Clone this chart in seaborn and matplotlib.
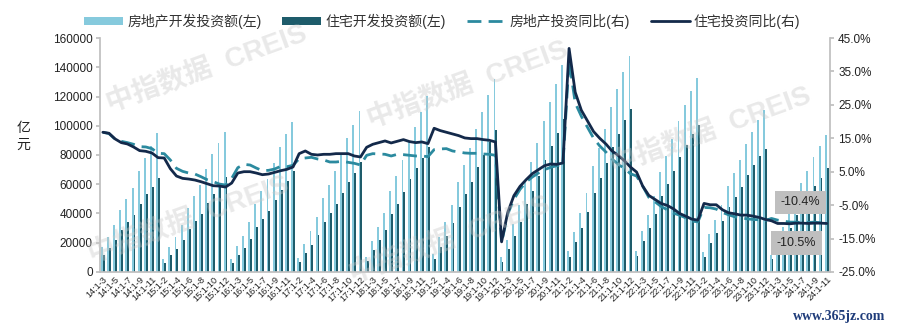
import numpy as np
import pandas as pd
import matplotlib
matplotlib.use("Agg")
import matplotlib.pyplot as plt
from matplotlib.patches import Patch
from matplotlib.lines import Line2D
import seaborn as sns

# ---- periods: cumulative month ranges, 2014:1-3 .. 2024:1-11 ----
year_months = {
    14: [3, 4, 5, 6, 7, 8, 9, 10, 11, 12],
    15: [2, 3, 4, 5, 6, 7, 8, 9, 10, 11, 12],
    16: [2, 3, 4, 5, 6, 7, 8, 9, 10, 11, 12],
    17: [2, 3, 4, 5, 6, 7, 8, 9, 10, 11, 12],
    18: [2, 3, 4, 5, 6, 7, 8, 9, 10, 11, 12],
    19: [2, 3, 4, 5, 6, 7, 8, 9, 10, 11, 12],
    20: [2, 3, 4, 5, 6, 7, 8, 9, 10, 11, 12],
    21: [2, 3, 4, 5, 6, 7, 8, 9, 10, 11, 12],
    22: [2, 3, 4, 5, 6, 7, 8, 9, 10, 11, 12],
    23: [2, 3, 4, 5, 6, 7, 8, 9, 10, 11, 12],
    24: [2, 3, 4, 5, 6, 7, 8, 9, 10, 11],
}
periods = [f"{y}:1-{m}" for y, ms in year_months.items() for m in ms]

# 房地产开发投资额 (亿元, 累计)
re_invest = [
    16795, 23670, 32064, 42019, 50011, 57461, 68751, 78246, 86013, 95036,
    8786, 16914, 23669, 32167, 43955, 51926, 59486, 70535, 80536, 88478, 95979,
    9117, 17677, 24798, 33848, 46631, 55358, 63785, 74598, 85138, 94462, 102581,
    9854, 19292, 27732, 37267, 50610, 59761, 68732, 80644, 91513, 100387, 109799,
    10260, 21291, 30592, 40632, 55531, 65430, 76519, 88948, 99325, 109312, 120264,
    12090, 23803, 34217, 46075, 61609, 72843, 84589, 98008, 109603, 121265, 132194,
    10115, 21963, 33103, 45920, 62780, 75325, 88454, 103484, 116556, 128492, 141443,
    13986, 27576, 40240, 54318, 72179, 84895, 98060, 112568, 124934, 137086, 147602,
    14499, 27765, 39154, 52134, 68314, 79462, 90809, 103559, 113945, 123863, 132895,
    13669, 25974, 35514, 45701, 58550, 67717, 76900, 87269, 95922, 104045, 110913,
    11842, 22082, 30928, 40632, 52529, 60877, 69284, 78680, 86309, 93368,
]

# 住宅开发投资额 (亿元, 累计)
res_invest = [
    11458, 16133, 21941, 28765, 34089, 39133, 46673, 53174, 58349, 64352,
    5955, 11434, 15917, 21574, 29274, 34601, 39538, 46947, 53517, 58722, 64595,
    6053, 11854, 16488, 22442, 30815, 36497, 41945, 49085, 55998, 62046, 68704,
    6694, 13134, 18577, 25034, 34141, 40245, 46306, 54211, 61547, 67641, 75148,
    7203, 14948, 21681, 28848, 39308, 46556, 54503, 63464, 70876, 78107, 85192,
    8529, 17094, 24866, 33152, 44618, 53010, 61798, 71681, 80210, 88843, 97071,
    7115, 15759, 24311, 33901, 46350, 55666, 65454, 76522, 86046, 94923, 104446,
    10316, 20624, 30102, 40769, 54244, 64214, 74218, 85246, 94668, 103859, 111173,
    10819, 21016, 29846, 39521, 51804, 60332, 69039, 78713, 86514, 94055, 100646,
    10329, 19767, 26961, 34653, 44439, 51400, 58380, 66279, 72869, 79046, 83820,
    8856, 16687, 22979, 30193, 39051, 45262, 51546, 58534, 64328, 70987,
]

# 房地产投资同比 (%)
re_yoy = [
    16.8, 16.4, 14.7, 14.1, 13.7, 13.2, 12.5, 12.4, 11.9, 10.5,
    10.4, 8.5, 6.0, 5.1, 4.6, 4.3, 3.5, 2.6, 2.0, 1.3, 1.0,
    3.0, 6.2, 7.2, 7.0, 6.1, 5.3, 5.4, 5.8, 6.6, 6.5, 6.9,
    8.9, 9.1, 9.3, 8.8, 8.5, 7.9, 7.9, 8.1, 7.8, 7.5, 7.0,
    9.9, 10.4, 10.3, 10.2, 9.7, 10.2, 10.1, 9.9, 9.7, 9.7, 9.5,
    11.6, 11.8, 11.9, 11.2, 10.9, 10.6, 10.5, 10.5, 10.3, 10.2, 9.9,
    -16.3, -7.7, -3.3, -0.3, 1.9, 3.4, 4.6, 5.6, 6.3, 6.8, 7.0,
    38.3, 25.6, 21.6, 18.3, 15.0, 12.7, 10.9, 8.8, 7.2, 6.0, 4.4,
    3.7, 0.7, -2.7, -4.0, -5.4, -6.4, -7.4, -8.0, -8.8, -9.8, -10.0,
    -5.7, -5.8, -6.2, -7.2, -7.9, -8.5, -8.8, -9.1, -9.3, -9.4, -9.6,
    -9.0, -9.5, -9.8, -10.1, -10.1, -10.2, -10.2, -10.1, -10.3, -10.4,
]

# 住宅投资同比 (%)
res_yoy = [
    16.8, 16.5, 14.8, 13.7, 13.3, 12.4, 11.3, 11.1, 10.6, 9.2,
    9.1, 5.9, 3.7, 3.0, 2.8, 2.5, 2.0, 1.4, 0.8, 0.7, 0.4,
    1.6, 4.6, 5.0, 5.0, 4.6, 4.1, 4.3, 4.8, 5.3, 5.7, 6.4,
    10.4, 11.2, 10.2, 10.0, 10.2, 10.2, 10.4, 10.4, 10.4, 9.7, 9.4,
    12.3, 13.2, 13.7, 14.2, 13.6, 14.1, 14.6, 14.0, 13.7, 13.9, 13.4,
    18.0, 17.3, 16.8, 16.3, 15.8, 15.1, 14.9, 14.9, 14.6, 14.4, 13.9,
    -16.0, -7.2, -2.2, 0.6, 2.6, 4.4, 5.6, 6.8, 7.3, 7.2, 7.6,
    41.9, 28.8, 23.4, 20.2, 17.0, 15.0, 13.3, 11.2, 9.9, 8.3, 6.4,
    4.9, 0.7, -2.1, -3.3, -4.5, -5.1, -6.1, -7.5, -8.3, -9.2, -9.5,
    -4.5, -4.9, -4.9, -6.4, -7.3, -7.6, -8.0, -8.0, -8.3, -8.7, -9.3,
    -9.7, -10.5, -10.5, -10.6, -10.4, -10.4, -10.5, -10.4, -10.4, -10.5,
]

left_ticks = [0, 20000, 40000, 60000, 80000, 100000, 120000, 140000, 160000]
right_ticks = [-25, -15, -5, 5, 15, 25, 35, 45]

names = ["房地产开发投资额(左)", "住宅开发投资额(左)", "房地产投资同比(右)", "住宅投资同比(右)"]
c_light, c_dark = "#86CADD", "#1E5C6B"
c_dash, c_solid = "#2B8A9F", "#13294A"

sns.set_theme(style="white")
plt.rcParams["font.family"] = ["Liberation Sans", "Noto Sans CJK SC", "DejaVu Sans"]

n = len(periods)
bars = pd.DataFrame({
    "period": periods * 2,
    "value": re_invest + res_invest,
    "series": [names[0]] * n + [names[1]] * n,
})

fig = plt.figure(figsize=(8.99, 3.28), dpi=100)
ax = fig.add_axes([0.111, 0.171, 0.812, 0.713])

sns.barplot(data=bars, x="period", y="value", hue="series", order=periods,
            hue_order=names[:2], palette=[c_light, c_dark], width=0.62,
            dodge=True, legend=False, ax=ax, saturation=1)
for p in ax.patches:
    p.set_linewidth(0)

ax2 = ax.twinx()
xs = np.arange(n)
sns.lineplot(x=xs, y=re_yoy, ax=ax2, color=c_dash, linewidth=2.0, zorder=3)
ax2.lines[-1].set_linestyle((0, (5, 2.6)))
sns.lineplot(x=xs, y=res_yoy, ax=ax2, color=c_solid, linewidth=2.0, zorder=4)

ax.set_xlim(-0.5, n - 0.5)
ax2.set_xlim(-0.5, n - 0.5)
ax.set_ylim(0, 160000)
ax2.set_ylim(-25, 45)

ax.set_yticks(left_ticks)
ax.set_yticklabels([str(v) for v in left_ticks], fontsize=8.5, color="#222222")
ax2.set_yticks(right_ticks)
ax2.set_yticklabels([f"{v:.1f}%" for v in right_ticks], fontsize=8.5, color="#222222")

ax.set_xticks(range(0, n, 2))
ax.set_xticklabels(periods[::2], rotation=45, ha="right", rotation_mode="anchor",
                   fontsize=6.6, color="#222222")
ax.set_xlabel("")
ax.set_ylabel("")
ax2.set_ylabel("")

for a in (ax, ax2):
    for s in a.spines.values():
        s.set_visible(False)
    a.grid(False)
ax.spines["left"].set_visible(True)
ax.spines["left"].set_color("#BFBFBF")
ax.spines["bottom"].set_visible(True)
ax.spines["bottom"].set_color("#BFBFBF")
ax2.spines["right"].set_visible(True)
ax2.spines["right"].set_color("#BFBFBF")
ax.tick_params(axis="y", length=3, color="#BFBFBF", pad=2, left=True)
ax.tick_params(axis="x", length=0, pad=2)
ax2.tick_params(axis="y", length=3, color="#BFBFBF", pad=3, right=True)

fig.text(0.026, 0.585, "亿\n元", fontsize=10, ha="center", va="center",
         linespacing=1.25, color="#222222")

# end-of-series value labels
box = dict(boxstyle="square,pad=0.45", fc="#BFBFBF", ec="none")
ax2.annotate(f"{re_yoy[-1]:.1f}%", xy=(n - 1, re_yoy[-1]), xytext=(-19, 15),
             textcoords="offset points", ha="center", va="center",
             fontsize=9, color="#222222", bbox=box, zorder=6)
ax2.annotate(f"{res_yoy[-1]:.1f}%", xy=(n - 1, res_yoy[-1]), xytext=(-22, -14),
             textcoords="offset points", ha="center", va="center",
             fontsize=9, color="#222222", bbox=box, zorder=6)

handles = [
    Patch(facecolor=c_light, edgecolor="none"),
    Patch(facecolor=c_dark, edgecolor="none"),
    Line2D([], [], color=c_dash, linewidth=2.0, linestyle=(0, (5, 2.6))),
    Line2D([], [], color=c_solid, linewidth=2.0),
]
fig.legend(handles, names, loc="center", bbox_to_anchor=(0.492, 0.935), ncol=4,
           frameon=False, fontsize=10, handlelength=2.8, handleheight=0.55,
           columnspacing=1.5, handletextpad=0.3, labelcolor="#333333")

# watermarks
for (wx, wy) in [(0.23, 0.79), (0.21, 0.33), (0.52, 0.74), (0.79, 0.60), (0.50, 0.27)]:
    fig.text(wx, wy, "中指数据  CREIS", fontsize=20, fontweight="bold", color="#C8C8C8",
             alpha=0.4, rotation=20, ha="center", va="center", zorder=10)
fig.text(0.985, 0.035, "www.365jz.com", fontsize=10, fontweight="bold",
         family="Liberation Serif", color="#1F3C7A", ha="right", va="center")

fig.savefig("out.png", dpi=100)
